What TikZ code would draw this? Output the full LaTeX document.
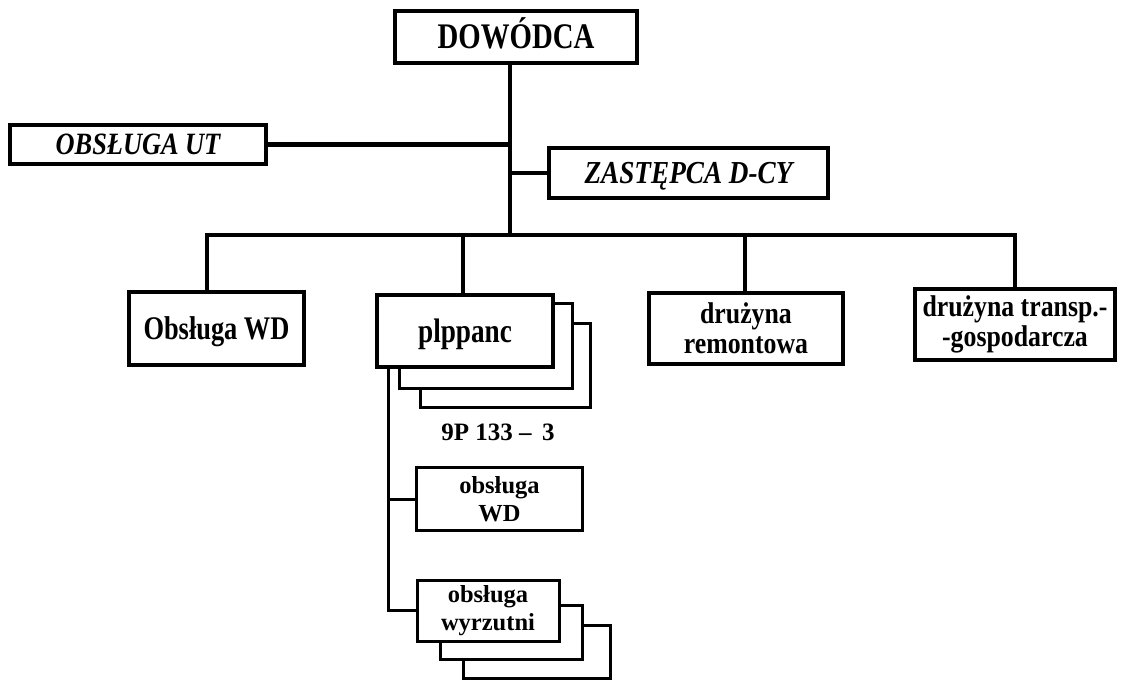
\documentclass[tikz,border=0pt]{standalone}
\usepackage{fontspec}
\setmainfont{Liberation Serif}
% narrow settings of the serif face used for the unit names
\newfontfamily\narrowserif{Liberation Serif}[FakeStretch=0.8]
\newfontfamily\halfnarrow{Liberation Serif}[FakeStretch=0.86]
\newfontfamily\narrowitalic{Liberation Serif}[FakeStretch=0.85]
\usetikzlibrary{calc}
\begin{document}
\begin{tikzpicture}[x=1pt,y=-1pt,
  box/.style={draw, line width=4.5pt, inner sep=0pt, align=center,
    font=\narrowserif\bfseries\fontsize{33}{33}\selectfont},
  twobox/.style={box, font=\halfnarrow\bfseries\fontsize{30}{30}\selectfont},
  ibox/.style={box, font=\narrowitalic\bfseries\itshape\fontsize{31}{31}\selectfont},
  subbox/.style={draw, line width=3pt, inner sep=0pt, align=center,
    font=\bfseries\fontsize{24.5}{28}\selectfont},
  link/.style={line width=4.5pt},
  thinlink/.style={line width=3pt},
  sheet/.style={line width=3pt, line join=miter}]
\useasboundingbox (0,0) rectangle (1121,682);
\fill[white] (0,0) rectangle (1121,682);

% command level
\node[box, minimum width=242pt, minimum height=52pt, text height=24pt, text depth=0pt,
  font=\narrowserif\bfseries\fontsize{36}{36}\selectfont] (dow) at (516,37) {DOWÓDCA};
\node[ibox, minimum width=256pt, minimum height=39pt, text height=20.5pt, text depth=0pt] (ut) at (138,144.5) {OBSŁUGA UT};
\node[ibox, minimum width=279pt, minimum height=50pt, text height=21pt, text depth=0pt,
  font=\narrowitalic\bfseries\itshape\fontsize{32}{32}\selectfont] (zast) at (688.5,173) {ZASTĘPCA D-CY};

% sections
\node[box, minimum width=175pt, minimum height=73pt, text height=22pt, text depth=0pt] (obwd) at (216.5,328.5) {Obsługa WD};
\node[box, minimum width=176pt, minimum height=72pt, text height=22pt, text depth=0pt,
  font=\narrowserif\bfseries\fontsize{34}{34}\selectfont] (plp) at (465,331) {plppanc};
\node[twobox, minimum width=194pt, minimum height=71pt] (drem) at (746,328.5) {drużyna\\remontowa};
\node[twobox, minimum width=200pt, minimum height=71pt] (drt) at (1015,324.5) {drużyna transp.-\\-gospodarcza};

% sheets stacked behind plppanc
\draw[sheet] (plp.east |- 0,303) -- (572,303) -- (572,388) -- (399,388) -- (399,367);
\draw[sheet] (572,323) -- (590,323) -- (590,407) -- (420,407) -- (420,388);

\node[font=\bfseries\fontsize{25}{28}\selectfont] (typ) at (498,432) {9P 133 –\, 3};

% crews
\node[subbox, minimum width=166pt, minimum height=63pt] (obsl) at (499.5,499) {obsługa\\WD};
\node[subbox, minimum width=142pt, minimum height=61pt] (wyr) at (488,610.5) {obsługa\\wyrzutni};
\draw[sheet] (wyr.east |- 0,605) -- (582,605) -- (582,659) -- (440,659) -- (440,641);
\draw[sheet] (582,625) -- (610,625) -- (610,678) -- (463,678) -- (463,659);

% connectors
\coordinate (bus) at (510,235);
\coordinate (busL) at (207,235);
\coordinate (busR) at (1015,235);
\coordinate (d2) at (463,235);
\coordinate (d3) at (745,235);
\coordinate (sp) at (388,0);

\draw[link] (dow.south -| bus) -- (bus);
\draw[link] (ut.east) -- (ut.east -| bus);
\draw[link] (zast.west) -- (zast.west -| bus);
\draw[link] (obwd.north -| busL) -- (busL) -- (busR) -- (drt.north -| busR);
\draw[link] (d2) -- (plp.north -| d2);
\draw[link] (d3) -- (drem.north -| d3);

\draw[thinlink] (plp.south -| sp) -- (wyr.west -| sp) -- (wyr.west);
\draw[thinlink] (obsl.west -| sp) -- (obsl.west);
\end{tikzpicture}
\end{document}
